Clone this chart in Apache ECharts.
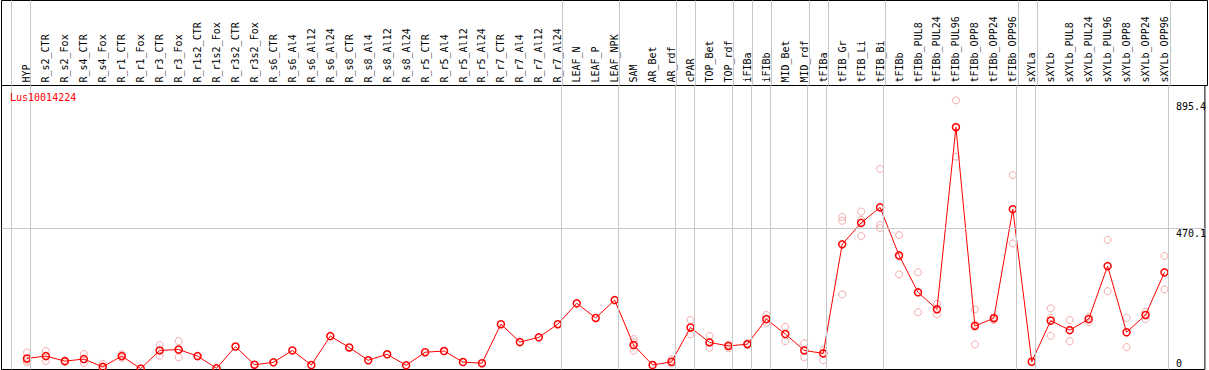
<!DOCTYPE html>
<html>
<head>
<meta charset="utf-8">
<script src="https://cdn.jsdelivr.net/npm/echarts@6.0.0/dist/echarts.min.js"></script>
<style>
html, body { margin: 0; padding: 0; background: #fff; }
#main { width: 1209px; height: 370px; }
</style>
</head>
<body>
<div id="main"></div>
<script>
var geneName = 'Lus10014224';
var categories = ['HYP', 'R_s2_CTR', 'R_s2_Fox', 'R_s4_CTR', 'R_s4_Fox', 'R_r1_CTR', 'R_r1_Fox', 'R_r3_CTR', 'R_r3_Fox',
    'R_r1s2_CTR', 'R_r1s2_Fox', 'R_r3s2_CTR', 'R_r3s2_Fox', 'R_s6_CTR', 'R_s6_Al4', 'R_s6_Al12', 'R_s6_Al24',
    'R_s8_CTR', 'R_s8_Al4', 'R_s8_Al12', 'R_s8_Al24', 'R_r5_CTR', 'R_r5_Al4', 'R_r5_Al12', 'R_r5_Al24',
    'R_r7_CTR', 'R_r7_Al4', 'R_r7_Al12', 'R_r7_Al24', 'LEAF_N', 'LEAF_P', 'LEAF_NPK', 'SAM', 'AR_Bet', 'AR_rdf',
    'cPAR', 'TOP_Bet', 'TOP_rdf', 'iFIBa', 'iFIBb', 'MID_Bet', 'MID_rdf', 'tFIBa', 'tFIB_Gr', 'tFIB_Li', 'tFIB_Bi',
    'tFIBb', 'tFIBb_PUL8', 'tFIBb_PUL24', 'tFIBb_PUL96', 'tFIBb_OPP8', 'tFIBb_OPP24', 'tFIBb_OPP96',
    'sXYLa', 'sXYLb', 'sXYLb_PUL8', 'sXYLb_PUL24', 'sXYLb_PUL96', 'sXYLb_OPP8', 'sXYLb_OPP24', 'sXYLb_OPP96'];

// mean expression per sample
var means = [34, 42, 25, 32, 6, 42, 0, 61, 64,
    42, 1, 74, 13, 21, 61, 12, 109,
    71, 28, 48, 11, 55, 59, 22, 18,
    149, 89, 105, 149, 219, 170, 230, 79, 12, 23,
    138, 88, 76, 82, 166, 116, 61, 51, 417, 489, 541,
    380, 256, 199, 810, 143, 169, 535,
    23, 161, 129, 166, 344, 122, 180, 323];

// replicate values (null = none visible)
var rep1 = [54, 59, 27, 49, 16, null, null, 79, 92,
    null, null, null, null, null, null, null, null,
    null, null, null, null, null, null, null, null,
    null, null, null, null, null, null, null, 99, null, 31,
    163, 109, 81, 85, 180, 140, 85, 62, 509, 527, 670,
    448, 323, 217, 900, 199, 172, 649,
    null, 202, 163, 174, 432, 170, 191, 378];
var rep2 = [21, 25, 22, 19, 0, 36, null, 43, 38,
    null, null, null, null, null, null, null, null,
    null, null, null, null, null, null, null, null,
    null, null, null, null, null, null, null, 60, null, 17,
    115, 70, 68, 79, 154, 92, 38, 28, 249, 445, 482,
    316, 189, 182, 711, 81, 163, 420,
    null, 110, 92, 156, 260, 72, 166, 266];
var rep3 = [27, null, null, null, null, 48, null, null, null,
    null, null, null, null, null, null, null, null,
    null, null, null, null, null, null, null, null,
    null, null, null, null, null, null, null, 88, null, null,
    null, null, null, null, null, null, null, null, 496, 499, 471,
    375, 256, null, 812, 148, null, 535,
    null, 170, null, null, null, null, null, null];

// last sample index of each tissue group (separator lines)
var groupEnds = [-1, 0, 28, 31, 34, 35, 37, 38, 39, 41, 42, 45, 52, 53, 60];
var yTicks = [470.1, 895.4];
var yGrid = [470.1];

var font = 'DejaVu Sans Mono';
var xMin = -1.3421, xMax = 62.1316;
var sepShift = 0.1842;
var gray = '#c8c8c8';

var chartDom = document.getElementById('main');
var myChart = echarts.init(chartDom, null, { renderer: 'svg' });

var repData = [];
[rep1, rep2, rep3].forEach(function (arr) {
    arr.forEach(function (v, i) {
        if (v !== null) repData.push([i, v]);
    });
});

var sepLines = groupEnds.map(function (i) { return { xAxis: i + sepShift }; });
var markLineBase = {
    symbol: ['none', 'none'],
    silent: true,
    animation: false,
    label: { show: false },
    lineStyle: { color: gray, width: 1, type: 'solid' }
};

var option = {
    backgroundColor: '#fff',
    animation: false,
    title: {
        text: geneName,
        left: 10,
        top: 92,
        padding: 0,
        textStyle: { color: '#ff0000', fontSize: 10, fontWeight: 'normal', fontFamily: font }
    },
    grid: [
        { left: 1.5, right: 1.5, top: 0.5, height: 85, show: true, borderColor: '#000', borderWidth: 1, backgroundColor: 'transparent' },
        { left: 1.5, right: 1.5, top: 85.5, bottom: 0.5, show: true, borderColor: '#000', borderWidth: 1, backgroundColor: 'transparent' }
    ],
    xAxis: [
        { type: 'value', gridIndex: 0, min: xMin, max: xMax, show: false },
        {
            type: 'value', gridIndex: 1, position: 'top', min: xMin, max: xMax,
            axisLine: { show: false }, axisTick: { show: false }, splitLine: { show: false },
            axisLabel: {
                customValues: categories.map(function (c, i) { return i; }),
                rotate: 90,
                margin: 3,
                fontFamily: font,
                fontSize: 10,
                color: '#000',
                formatter: function (v) { return categories[v]; }
            }
        }
    ],
    yAxis: [
        { type: 'value', gridIndex: 0, min: 0, max: 1, show: false },
        {
            type: 'value', gridIndex: 1, position: 'right', min: -3, max: 950,
            axisLine: { show: false }, axisTick: { show: false }, splitLine: { show: false },
            axisLabel: {
                customValues: yTicks,
                margin: -29,
                align: 'left',
                verticalAlign: 'top',
                fontFamily: font,
                fontSize: 10,
                color: '#000',
                formatter: function (v) { return String(v); }
            }
        },
        {
            type: 'value', gridIndex: 1, position: 'right', min: -3, max: 950,
            axisLine: { show: false }, axisTick: { show: false }, splitLine: { show: false },
            axisLabel: {
                customValues: [0],
                margin: -29,
                align: 'left',
                verticalAlign: 'bottom',
                fontFamily: font,
                fontSize: 10,
                color: '#000',
                formatter: function (v) { return String(v); }
            }
        }
    ],
    series: [
        {
            type: 'line', xAxisIndex: 0, yAxisIndex: 0, data: [],
            markLine: Object.assign({ data: sepLines }, markLineBase)
        },
        {
            type: 'scatter', xAxisIndex: 1, yAxisIndex: 1, z: 2,
            data: repData,
            symbol: 'circle',
            symbolSize: 7,
            itemStyle: { color: 'rgba(0,0,0,0)', borderColor: '#f09696', borderWidth: 1 },
            markLine: Object.assign({
                data: sepLines.concat(yGrid.map(function (v) { return { yAxis: v }; }))
            }, markLineBase)
        },
        {
            type: 'line', xAxisIndex: 1, yAxisIndex: 1, z: 3,
            data: means.map(function (v, i) { return [i, v]; }),
            symbol: 'circle',
            symbolSize: 7,
            showAllSymbol: true,
            itemStyle: { color: 'rgba(0,0,0,0)', borderColor: '#ff0000', borderWidth: 1.5 },
            lineStyle: { color: '#ff0000', width: 1 }
        }
    ]
};

option && myChart.setOption(option);
</script>
</body>
</html>
